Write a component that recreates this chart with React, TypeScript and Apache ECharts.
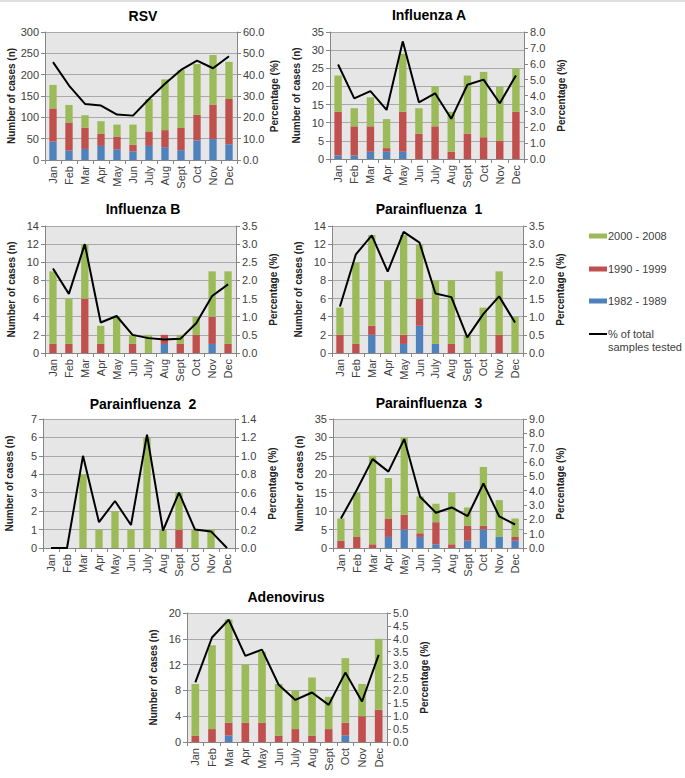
import React, { useEffect, useRef } from "react";
import * as echarts from "echarts";

const months = ["Jan", "Feb", "Mar", "Apr", "May", "Jun", "July", "Aug", "Sept", "Oct", "Nov", "Dec"];
const seriesNames = ["1982 - 1989", "1990 - 1999", "2000 - 2008", "% of total samples tested"];

// RSV
const rsv1982 = [43, 22, 26, 33, 25, 20, 33, 30, 23, 46, 49, 37];
const rsv1990 = [78, 66, 50, 29, 30, 16, 34, 40, 52, 60, 81, 106];
const rsv2000 = [55, 41, 29, 29, 28, 47, 76, 119, 136, 119, 116, 87];
const rsvPct = [45.9, 34.9, 26.3, 25.5, 21.3, 20.8, 28.6, 35.7, 42.2, 46.6, 43.0, 48.6];

// Influenza A
const fluA1982 = [1, 1, 2, 2, 2, 0, 0, 0, 0, 0, 0, 0];
const fluA1990 = [12, 8, 7, 1, 11, 7, 9, 2, 7, 6, 5, 13];
const fluA2000 = [10, 5, 8, 8, 16, 7, 11, 11, 16, 18, 15, 12];
const fluAPct = [5.95, 3.82, 4.28, 3.09, 7.41, 3.57, 4.14, 2.53, 4.68, 5.0, 3.51, 5.26];

// Influenza B
const fluB1982 = [0, 0, 0, 0, 0, 0, 0, 1, 0, 0, 1, 0];
const fluB1990 = [1, 1, 6, 1, 0, 1, 0, 1, 1, 2, 3, 1];
const fluB2000 = [8, 5, 6, 2, 4, 1, 2, 0, 1, 2, 5, 8];
const fluBPct = [2.33, 1.63, 3.0, 0.84, 1.02, 0.5, 0.41, 0.37, 0.39, 0.82, 1.57, 1.89];

// Parainfluenza 1
const para1_1982 = [0, 0, 2, 0, 1, 3, 1, 0, 0, 0, 0, 0];
const para1_1990 = [2, 1, 1, 0, 1, 3, 0, 1, 0, 0, 2, 0];
const para1_2000 = [3, 9, 10, 8, 11, 6, 7, 7, 2, 5, 7, 4];
const para1Pct = [1.28, 2.72, 3.24, 2.24, 3.34, 3.04, 1.64, 1.54, 0.43, 1.07, 1.56, 0.84];

// Parainfluenza 2
const para2_1982 = [0, 0, 0, 0, 0, 0, 0, 0, 0, 0, 0, 0];
const para2_1990 = [0, 0, 0, 0, 0, 0, 0, 0, 1, 0, 0, 0];
const para2_2000 = [0, 0, 4, 1, 2, 1, 6, 1, 2, 1, 1, 0];
const para2Pct = [0, 0, 1.0, 0.28, 0.51, 0.25, 1.23, 0.19, 0.6, 0.2, 0.18, 0];

// Parainfluenza 3
const para3_1982 = [0, 0, 0, 3, 5, 3, 1, 0, 2, 5, 3, 2];
const para3_1990 = [2, 3, 1, 5, 4, 1, 6, 1, 4, 1, 0, 1];
const para3_2000 = [6, 12, 24, 11, 21, 10, 5, 14, 5, 16, 10, 5];
const para3Pct = [2.06, 4.05, 6.2, 5.33, 7.6, 3.58, 2.46, 2.83, 2.22, 4.5, 2.2, 1.64];

// Adenovirus
const adeno1982 = [0, 0, 1, 0, 0, 0, 0, 0, 0, 1, 0, 0];
const adeno1990 = [1, 2, 2, 3, 3, 1, 2, 1, 2, 2, 4, 5];
const adeno2000 = [8, 13, 16, 9, 11, 8, 6, 9, 5, 10, 5, 11];
const adenoPct = [2.31, 4.05, 4.74, 3.34, 3.58, 2.22, 1.63, 1.92, 1.44, 2.69, 1.57, 3.38];

const FONT = "'Liberation Sans', Arial, sans-serif";
const BLUE = "#4f81bd";
const RED = "#c0504d";
const GREEN = "#9bbb59";
const AXIS = "#868686";
const LABEL = "#404040";

const panels = [
  { title: "RSV", d: [rsv1982, rsv1990, rsv2000, rsvPct], lMax: 300, lInt: 50, rMax: 60, rInt: 10, grid: { left: 45, top: 32, width: 192, height: 128 }, tx: 143, ty: 16 },
  { title: "Influenza A", d: [fluA1982, fluA1990, fluA2000, fluAPct], lMax: 35, lInt: 5, rMax: 8, rInt: 1, grid: { left: 330, top: 32, width: 194, height: 127 }, tx: 429, ty: 15 },
  { title: "Influenza B", d: [fluB1982, fluB1990, fluB2000, fluBPct], lMax: 14, lInt: 2, rMax: 3.5, rInt: 0.5, grid: { left: 45, top: 226, width: 191, height: 127 }, tx: 143, ty: 209 },
  { title: "Parainfluenza  1", d: [para1_1982, para1_1990, para1_2000, para1Pct], lMax: 14, lInt: 2, rMax: 3.5, rInt: 0.5, grid: { left: 332, top: 226, width: 191, height: 127 }, tx: 429, ty: 209 },
  { title: "Parainfluenza  2", d: [para2_1982, para2_1990, para2_2000, para2Pct], lMax: 7, lInt: 1, rMax: 1.4, rInt: 0.2, grid: { left: 43, top: 419, width: 192, height: 129 }, tx: 143, ty: 404 },
  { title: "Parainfluenza  3", d: [para3_1982, para3_1990, para3_2000, para3Pct], lMax: 35, lInt: 5, rMax: 9, rInt: 1, grid: { left: 333, top: 419, width: 190, height: 129 }, tx: 429, ty: 403 },
  { title: "Adenovirus", d: [adeno1982, adeno1990, adeno2000, adenoPct], lMax: 20, lInt: 4, rMax: 5, rInt: 0.5, grid: { left: 187, top: 613, width: 200, height: 129 }, tx: 286, ty: 597 },
];

function buildOption() {
  const grid: any[] = [];
  const xAxis: any[] = [];
  const yAxis: any[] = [];
  const series: any[] = [];
  const graphic: any[] = [];

  graphic.push({ type: "line", shape: { x1: 0, y1: 1, x2: 685, y2: 1 }, style: { stroke: "#c0c0c0", lineWidth: 1 } });

  panels.forEach((p, i) => {
    grid.push({ ...p.grid, show: true, backgroundColor: "#e6e6e6", borderWidth: 0 });
    xAxis.push({
      type: "category",
      gridIndex: i,
      data: months,
      boundaryGap: true,
      axisLine: { show: true, lineStyle: { color: AXIS } },
      axisTick: { show: true, length: 4, lineStyle: { color: AXIS } },
      axisLabel: { rotate: 90, interval: 0, fontSize: 11, color: LABEL, fontFamily: FONT, margin: 6 },
    });
    yAxis.push({
      type: "value",
      gridIndex: i,
      position: "left",
      min: 0,
      max: p.lMax,
      interval: p.lInt,
      axisLine: { show: true, lineStyle: { color: AXIS } },
      axisTick: { show: true, length: 4, lineStyle: { color: AXIS } },
      splitLine: { show: true, lineStyle: { color: "#a9a9a9", width: 1 } },
      axisLabel: { fontSize: 11, color: LABEL, fontFamily: FONT, margin: 6 },
      name: "Number of cases (n)",
      nameLocation: "middle",
      nameGap: 29,
      nameRotate: 90,
      nameTextStyle: { fontSize: 10, fontWeight: "bold", color: "#222", fontFamily: FONT },
    });
    yAxis.push({
      type: "value",
      gridIndex: i,
      position: "right",
      min: 0,
      max: p.rMax,
      interval: p.rInt,
      axisLine: { show: true, lineStyle: { color: AXIS } },
      axisTick: { show: true, length: 4, lineStyle: { color: AXIS } },
      splitLine: { show: false },
      axisLabel: { fontSize: 11, color: LABEL, fontFamily: FONT, margin: 6, formatter: (v: number) => v.toFixed(1) },
      name: "Percentage (%)",
      nameLocation: "middle",
      nameGap: 32,
      nameRotate: 90,
      nameTextStyle: { fontSize: 10, fontWeight: "bold", color: "#222", fontFamily: FONT },
    });
    const colors = [BLUE, RED, GREEN];
    for (let k = 0; k < 3; k++) {
      series.push({
        type: "bar",
        name: seriesNames[k],
        xAxisIndex: i,
        yAxisIndex: 2 * i,
        stack: "s" + i,
        barWidth: "46%",
        data: p.d[k],
        itemStyle: { color: colors[k] },
        silent: true,
      });
    }
    series.push({
      type: "line",
      name: seriesNames[3],
      xAxisIndex: i,
      yAxisIndex: 2 * i + 1,
      data: p.d[3],
      symbol: "none",
      lineStyle: { color: "#000", width: 2 },
      z: 5,
      silent: true,
    });
    graphic.push({
      type: "text",
      x: p.tx,
      y: p.ty,
      style: { text: p.title, align: "center", verticalAlign: "middle", fontSize: 14, fontWeight: "bold", fill: "#000", fontFamily: FONT },
    });
  });

  // Legend
  const legendItems = [
    { name: "2000 - 2008", color: GREEN, y: 236 },
    { name: "1990 - 1999", color: RED, y: 269 },
    { name: "1982 - 1989", color: BLUE, y: 301 },
  ];
  legendItems.forEach((it) => {
    graphic.push({ type: "rect", shape: { x: 589, y: it.y - 2.5, width: 18, height: 5 }, style: { fill: it.color } });
    graphic.push({ type: "text", x: 608, y: it.y, style: { text: it.name, align: "left", verticalAlign: "middle", fontSize: 11, fill: LABEL, fontFamily: FONT } });
  });
  graphic.push({ type: "line", shape: { x1: 589, y1: 334, x2: 607, y2: 334 }, style: { stroke: "#000", lineWidth: 2 } });
  graphic.push({ type: "text", x: 608, y: 334, style: { text: "% of total", align: "left", verticalAlign: "middle", fontSize: 11, fill: LABEL, fontFamily: FONT } });
  graphic.push({ type: "text", x: 608, y: 347, style: { text: "samples tested", align: "left", verticalAlign: "middle", fontSize: 11, fill: LABEL, fontFamily: FONT } });

  return {
    animation: false,
    backgroundColor: "#ffffff",
    textStyle: { fontFamily: FONT },
    grid,
    xAxis,
    yAxis,
    series,
    graphic,
  };
}

export default function App() {
  const ref = useRef<HTMLDivElement>(null);
  useEffect(() => {
    document.body.style.margin = "0";
    if (!ref.current) return;
    const chart = echarts.init(ref.current, undefined, { renderer: "svg" });
    chart.setOption(buildOption() as any);
    return () => chart.dispose();
  }, []);
  return <div ref={ref} style={{ width: 685, height: 778 }} />;
}
